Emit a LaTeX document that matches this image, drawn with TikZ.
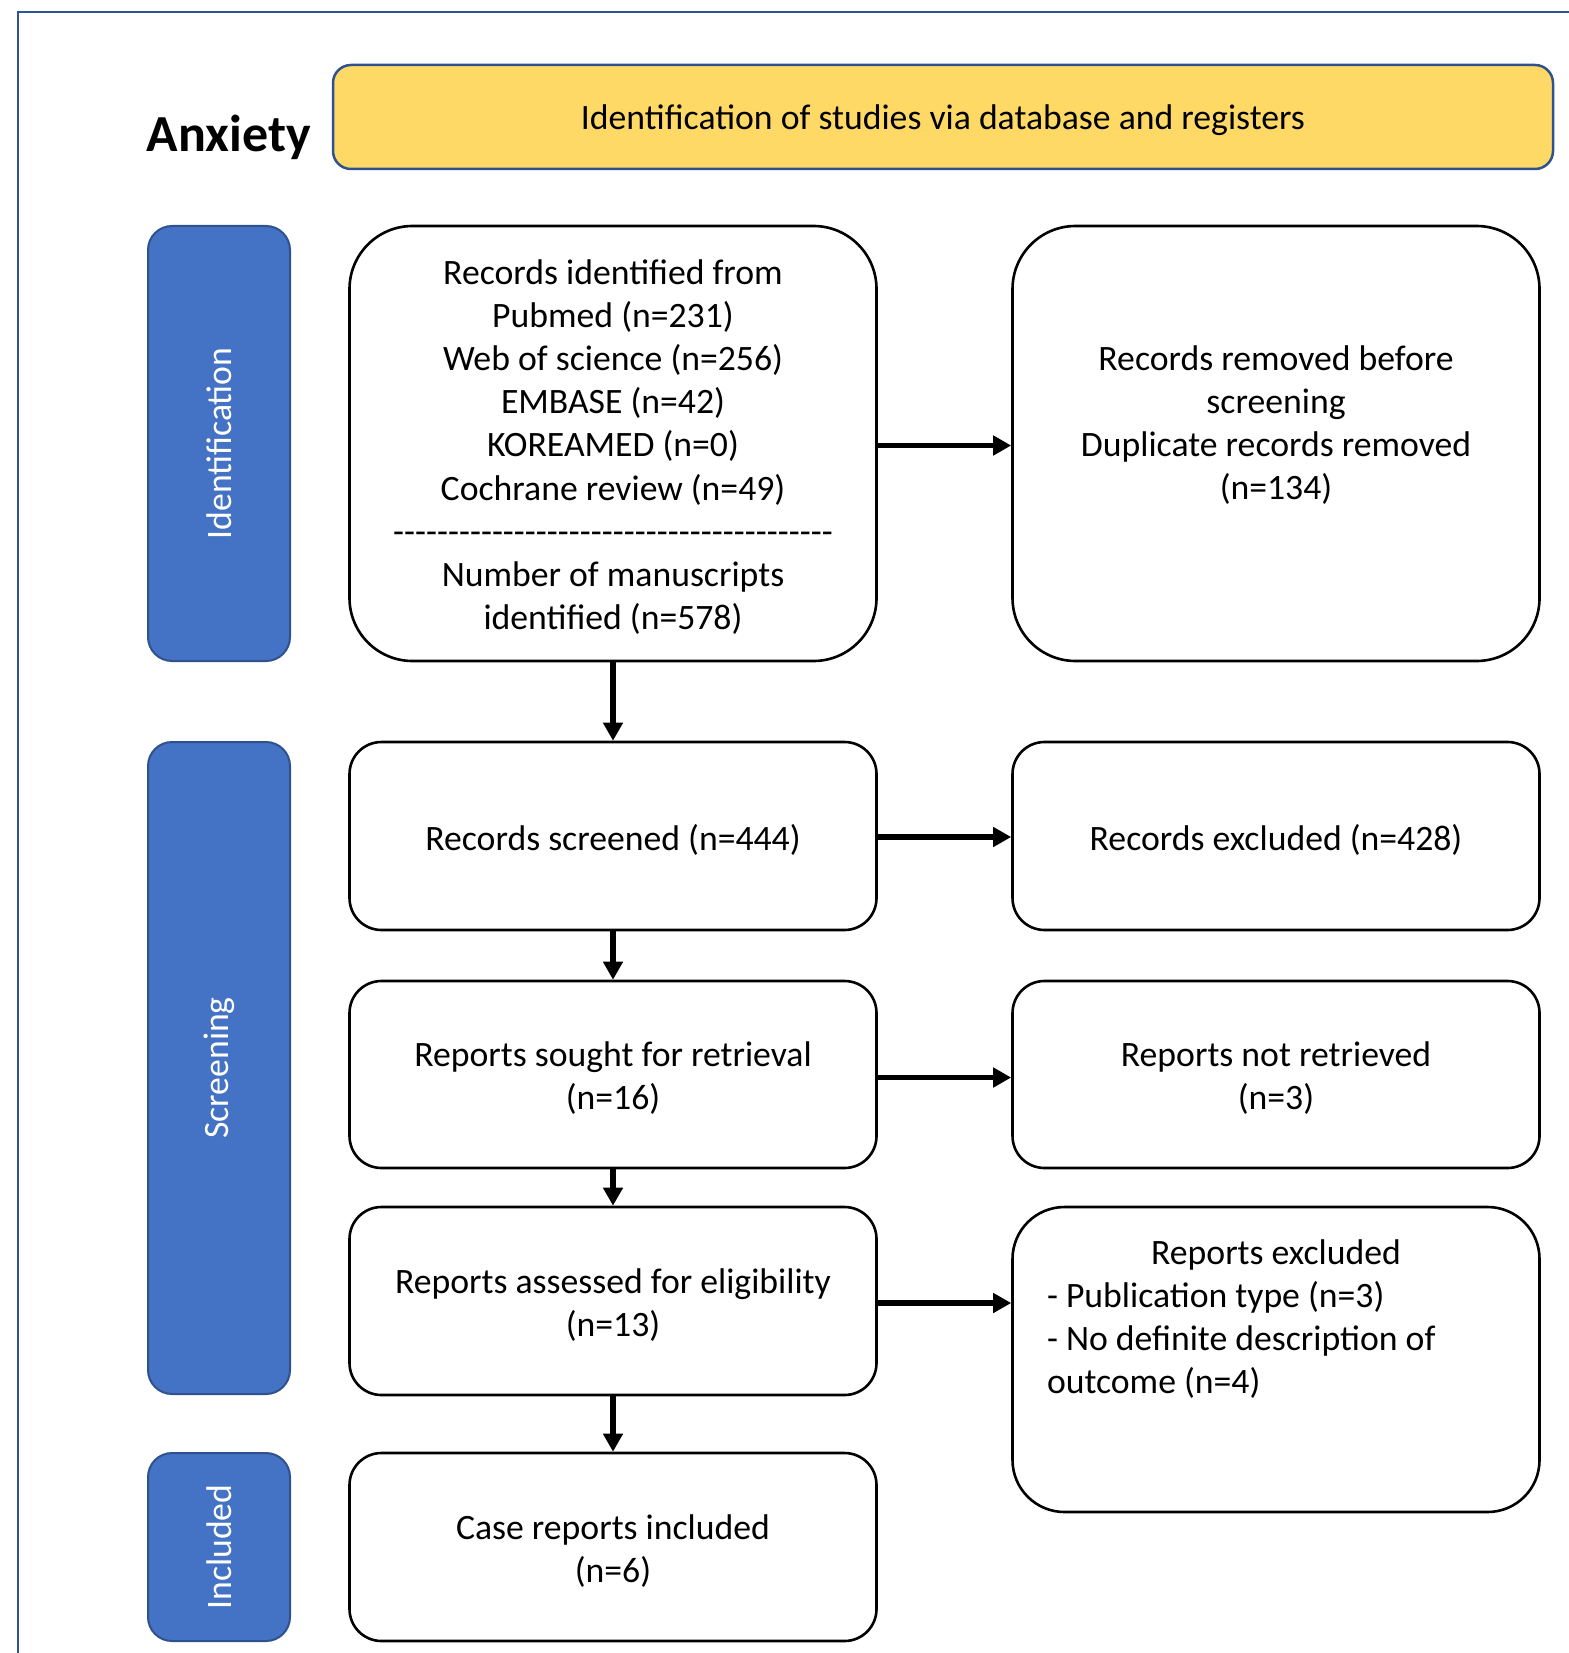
\documentclass[tikz,border=0pt]{standalone}
\usepackage{fontspec}
\setmainfont{Carlito}
\usetikzlibrary{arrows.meta}
\definecolor{frameblue}{RGB}{47,85,151}
\definecolor{labelblue}{RGB}{68,114,196}
\definecolor{labeledge}{RGB}{47,82,143}
\definecolor{headyellow}{RGB}{255,217,102}
\begin{document}
\begin{tikzpicture}[x=1pt,y=-1pt,
  every node/.style={font=\fontsize{35.7}{43.2}\selectfont},
  box/.style={draw=black, line width=2.6pt, rounded corners=32pt, minimum width=527pt, inner sep=0pt},
  bigbox/.style={box, rounded corners=63pt},
  txt/.style={align=center, inner sep=0pt},
  phase/.style={draw=labeledge, line width=2pt, fill=labelblue, rounded corners=24pt, minimum height=142pt, text=white, inner sep=0pt, rotate=90},
  arr/.style={line width=5.5pt, -{Triangle[length=18pt,width=19pt]}}
]
\useasboundingbox (0,0) rectangle (1568,1653);
\draw[frameblue, line width=2.5pt] (18,1660) -- (18,12) -- (1575,12);

\node[anchor=base, font=\fontsize{52}{60}\selectfont\bfseries] (title) at (229,152) {Anxiety};
\node[draw=labeledge, line width=2.5pt, fill=headyellow, rounded corners=18pt, minimum width=1220pt, minimum height=104pt, inner sep=0pt] (head) at (943,117) {};
\node[txt] (headtxt) at (943,120) {Identification of studies via database and registers};

\node[phase, minimum width=435pt] (pid) at (219,443.5) {Identification};
\node[phase, minimum width=652pt] (psc) at (219,1068) {Screening};
\node[phase, minimum width=188pt] (pin) at (219,1547) {Included};

% left column
\node[bigbox, minimum height=435pt] (b1) at (613,443.5) {};
\node[txt] (t1) at (613,447) {Records identified from\\Pubmed (n=231)\\Web of science (n=256)\\EMBASE (n=42)\\KOREAMED (n=0)\\Cochrane review (n=49)\\\makebox[440pt]{\xleaders\hbox{-}\hfill}\\Number of manuscripts\\identified (n=578)};
\node[box, minimum height=188pt] (b2) at (613,836) {};
\node[txt] (t2) at (613,840) {Records screened (n=444)};
\node[box, minimum height=187pt] (b3) at (613,1074.5) {};
\node[txt] (t3) at (613,1078) {Reports sought for retrieval\\(n=16)};
\node[box, minimum height=188pt] (b4) at (613,1301) {};
\node[txt] (t4) at (613,1305) {Reports assessed for eligibility\\(n=13)};
\node[box, minimum height=188pt] (b5) at (613,1547) {};
\node[txt] (t5) at (613,1551) {Case reports included\\(n=6)};

% right column
\node[bigbox, minimum height=435pt] (r1) at (1276,443.5) {};
\node[txt] (u1) at (1276,425) {Records removed before\\screening\\Duplicate records removed\\(n=134)};
\node[box, minimum height=188pt] (r2) at (1276,836) {};
\node[txt] (u2) at (1276,840) {Records excluded (n=428)};
\node[box, minimum height=187pt] (r3) at (1276,1074.5) {};
\node[txt] (u3) at (1276,1078) {Reports not retrieved\\(n=3)};
\node[box, rounded corners=52pt, minimum height=305pt] (r4) at (1276,1359.5) {};
\node[txt, text width=458pt, align=flush left] (u4) at (1276,1319) {\makebox[458pt]{Reports excluded}\\- Publication type (n=3)\\- No definite description of\\outcome (n=4)};

\draw[arr] ([yshift=-2pt]b1.east) -- ([yshift=-2pt]r1.west);
\draw[arr] ([yshift=-1pt]b2.east) -- ([yshift=-1pt]r2.west);
\draw[arr] ([yshift=-3pt]b3.east) -- ([yshift=-3pt]r3.west);
\draw[arr] ([yshift=-2pt]b4.east) -- ([yshift=-2pt]b4.east -| r4.west);
\draw[arr] (b1.south) -- (b2.north);
\draw[arr] (b2.south) -- (b3.north);
\draw[arr] (b3.south) -- (b4.north);
\draw[arr] (b4.south) -- (b5.north);
\end{tikzpicture}
\end{document}
